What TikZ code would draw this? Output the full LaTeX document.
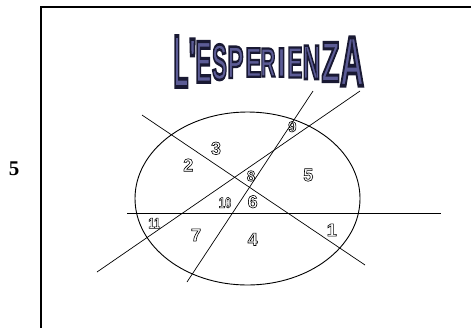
\documentclass[tikz,border=0pt]{standalone}
\usepackage{fontspec}
\usepackage{graphicx}
\usepackage{xcolor}
\setmainfont{Liberation Sans}
\newfontfamily\pagefont{Liberation Serif}
\usetikzlibrary{positioning}
\definecolor{artfill}{RGB}{92,92,150}
% outlined text through the pdf text render mode
\newcommand{\hollowtext}[1]{\special{pdf:literal direct 0 G 1 Tr 0.6 w}#1\special{pdf:literal direct 0 Tr}}
\newcommand{\arttext}[1]{{\color{artfill}\special{pdf:literal direct 0.1 0.1 0.2 RG 2 Tr 1.6 w}#1\special{pdf:literal direct 0 Tr}}}
\tikzset{
	frameline/.style={line width=1.1pt},
	cutline/.style={line width=0.7pt},
	zone/.style={inner sep=0pt, font=\fontsize{18}{18}\selectfont\bfseries},
	smallzone/.style={inner sep=0pt, font=\fontsize{15}{15}\selectfont\bfseries},
	artletter/.style={inner sep=0pt, font=\fontsize{30}{30}\selectfont\bfseries},
	pagenum/.style={inner sep=0pt, font=\pagefont\fontsize{21}{21}\selectfont\bfseries},
}

\begin{document}
\begin{tikzpicture}[x=1bp, y=-1bp]
	\useasboundingbox (0,0) rectangle (471,329);
	% page frame and number
	\draw[frameline] (471,7) -- (41,7) -- (41,328);
	\node[pagenum] (num) at (14,169) {5};
	% title
	\foreach \ch/\cx/\w [count=\i] in {L/181/15, \textquotesingle/192.5/8, E/203.5/16, S/219.5/15, P/235.5/16,
		E/253.5/16, R/268/15, I/281.5/8, E/295/15, N/311.5/18, Z/330.5/18, A/352/24}{
		\pgfmathsetmacro{\dd}{((\cx-269)/88)^2}
		\pgfmathsetmacro{\hh}{28+23*\dd}
		\pgfmathsetmacro{\cy}{62.5-\dd}
		\node[artletter] (t\i) at (\cx,\cy) {\resizebox{\w bp}{\hh bp}{\arttext{\ch}}};
	}
	% ellipse and cuts
	\draw[line width=0.9pt] (247.5,198.5) ellipse [x radius=112.5, y radius=86.5];
	\draw[cutline] (127,213) -- (441,213);
	\draw[cutline] (142,115) -- (365,265);
	\draw[cutline] (97,272) -- (360,91);
	\draw[cutline] (187,282) -- (313,91);
	% pieces
	\node[zone] (p1) at (331.7,230) {\hollowtext{1}};
	\node[zone] (p2) at (188.3,165) {\hollowtext{2}};
	\node[zone] (p3) at (216,148.3) {\hollowtext{3}};
	\node[zone] (p4) at (252.7,239.3) {\hollowtext{4}};
	\node[zone] (p5) at (308.3,175) {\hollowtext{5}};
	\node[zone] (p6) at (252.7,201.7) {\hollowtext{6}};
	\node[zone] (p7) at (196,235) {\hollowtext{7}};
	\node[smallzone] (p8) at (251,176) {\hollowtext{8}};
	\node[smallzone] (p9) at (292.3,126.7) {\hollowtext{9}};
	\node[smallzone, xscale=0.75] (p10) at (225,202.7) {\hollowtext{10}};
	\node[smallzone, xscale=0.75] (p11) at (154.3,223.3) {\hollowtext{11}};
\end{tikzpicture}
\end{document}
